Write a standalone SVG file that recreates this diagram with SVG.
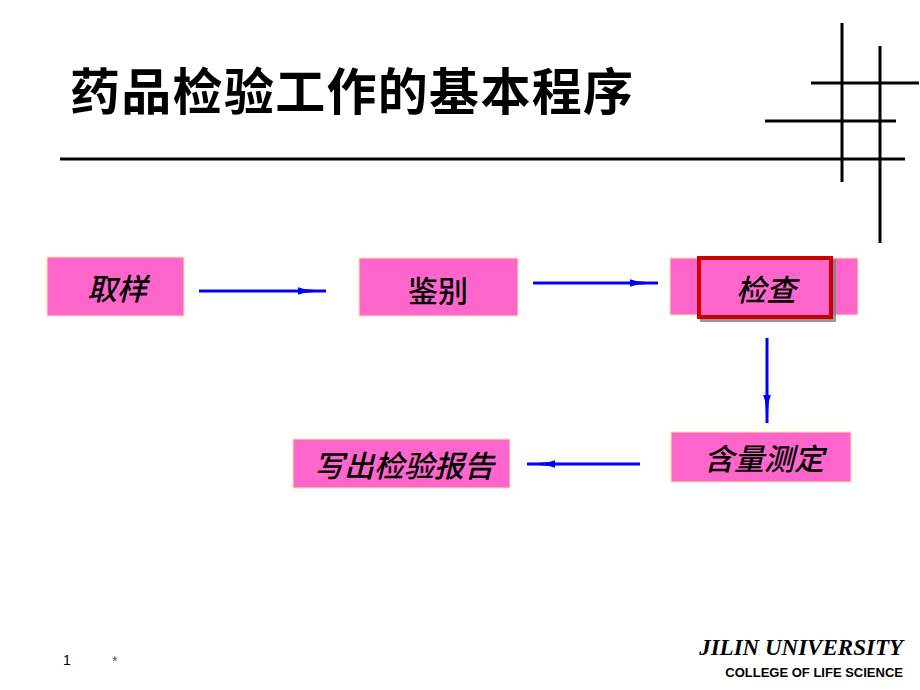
<svg xmlns="http://www.w3.org/2000/svg" width="920" height="690" viewBox="0 0 920 690">
<style>
.box{fill:#FF66CC;stroke:#FFE8A0;stroke-width:1}
.lbl{font-family:"Noto Sans CJK SC","Noto Sans CJK JP",sans-serif;font-size:30px;font-weight:500;fill:#000;text-anchor:middle}
.it{font-style:italic}
.rule{stroke:#000;stroke-width:3;fill:none}
.conn{stroke:#0000FF;stroke-width:3;fill:none;marker-end:url(#ah)}
.ttl{font-family:"Noto Sans CJK SC","Noto Sans CJK JP",sans-serif;font-size:50px;font-weight:bold;letter-spacing:1.3px;fill:#000}
.sans{font-family:"Liberation Sans",Arial,sans-serif}
.serif{font-family:"Liberation Serif","Times New Roman",serif}
</style>
<defs>
<marker id="ah" markerUnits="userSpaceOnUse" markerWidth="30" markerHeight="10" refX="28" refY="5" orient="auto">
<path d="M0,1.2 L6,3 L28,5 L6,7 L0,8.8 Z" fill="#0000FF"/>
</marker>
<filter id="sh" x="-10%" y="-10%" width="130%" height="130%">
<feDropShadow dx="3" dy="3" stdDeviation="0.5" flood-color="#808080" flood-opacity="0.8"/>
</filter>
</defs>
<rect width="920" height="690" fill="#FFFFFF"/>
<g id="title">
<text class="ttl" x="70" y="110">药品检验工作的基本程序</text>
</g>
<g id="decor">
<line class="rule" x1="60" y1="159" x2="905" y2="159"/>
<line class="rule" x1="842" y1="23" x2="842" y2="182"/>
<line class="rule" x1="880" y1="46" x2="880" y2="243"/>
<line class="rule" x1="811" y1="83" x2="919" y2="83"/>
<line class="rule" x1="765" y1="121" x2="896" y2="121"/>
</g>
<g id="connectors">
<line class="conn" x1="199" y1="291" x2="326" y2="291"/>
<line class="conn" x1="533" y1="283" x2="658" y2="283"/>
<line class="conn" x1="767" y1="338" x2="767" y2="423"/>
<line class="conn" x1="640" y1="464" x2="527" y2="464"/>
</g>
<g id="node-quyang">
<rect class="box" x="47" y="257" width="137" height="59"/>
<text class="lbl it" x="117" y="300">取样</text>
</g>
<g id="node-jianbie">
<rect class="box" x="359" y="258" width="159" height="58"/>
<text class="lbl" x="438" y="302">鉴别</text>
</g>
<g id="node-jiancha">
<rect class="box" x="670" y="258" width="188" height="57"/>
<rect x="699" y="258" width="132" height="59" fill="#FF66CC" stroke="#CC0000" stroke-width="4" filter="url(#sh)"/>
<text class="lbl it" x="766" y="301">检查</text>
</g>
<g id="node-hanliang">
<rect class="box" x="671" y="432" width="180" height="50"/>
<text class="lbl it" x="764" y="470">含量测定</text>
</g>
<g id="node-baogao">
<rect class="box" x="293" y="439" width="217" height="49"/>
<text class="lbl it" x="404" y="477">写出检验报告</text>
</g>
<g id="footer">
<text class="sans" x="63" y="665" font-size="14" fill="#000">1</text>
<text class="sans" x="112" y="666" font-size="14" fill="#555">*</text>
<text class="serif" x="903" y="655" text-anchor="end" font-size="23" font-weight="bold" font-style="italic" fill="#000">JILIN UNIVERSITY</text>
<text class="sans" x="903" y="677" text-anchor="end" font-size="13" font-weight="bold" fill="#000">COLLEGE OF LIFE SCIENCE</text>
</g>
</svg>
